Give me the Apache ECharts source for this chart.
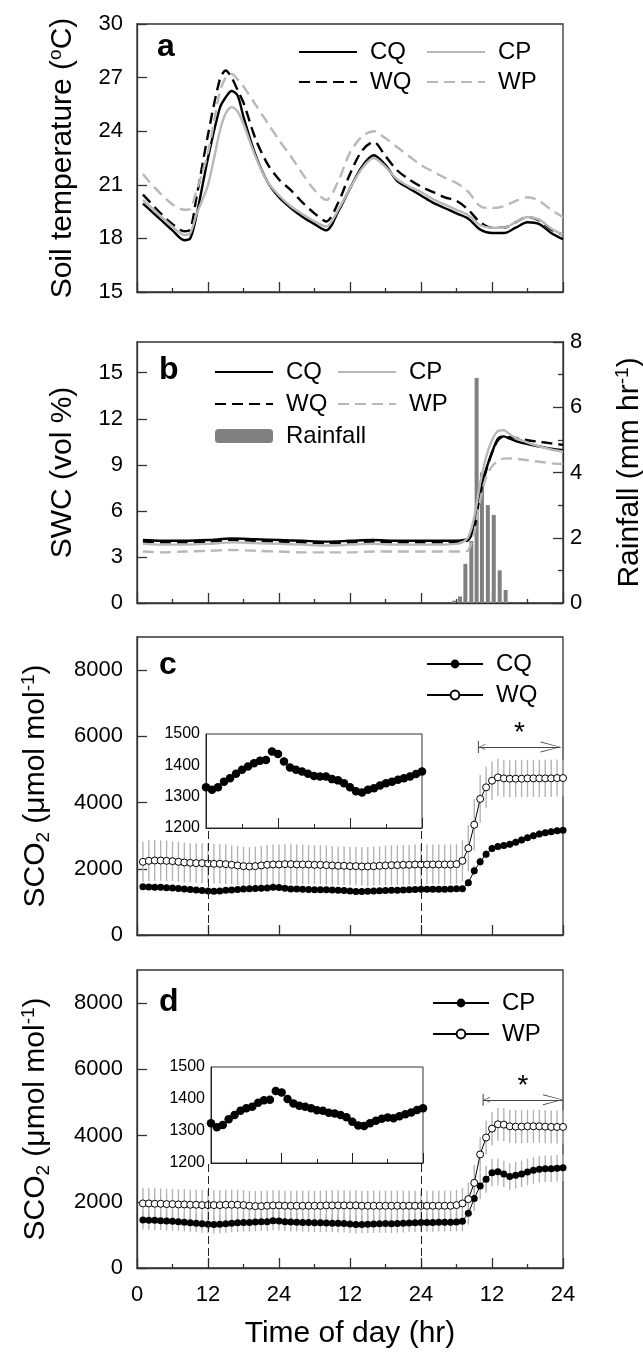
<!DOCTYPE html>
<html>
<head>
<meta charset="utf-8">
<script src="https://cdn.jsdelivr.net/npm/echarts/dist/echarts.min.js"></script>
<style>
html, body { margin: 0; padding: 0; background: #fff; }
#chart { width: 643px; height: 1353px; }
</style>
</head>
<body>
<div id="chart"></div>
<script>
// ---- data ----
var xTickLabels = ['0', '12', '24', '12', '24', '12', '24'];

// panel a: soil temperature (degC)
var tempHours = [1, 2, 4, 6, 8, 9, 10, 12, 14, 15, 16, 17, 18, 20, 22, 24, 26, 28, 30, 32, 34, 36, 38, 40,
    42, 44, 46, 48, 50, 52, 54, 56, 58, 60, 62, 64, 66, 68, 70, 72];
var tempCQ = [19.95, 19.65, 19.05, 18.45, 17.9, 18.0, 19.2, 22.5, 25.3, 25.9, 26.25, 26.0, 24.8, 22.7, 21.2, 20.3,
    19.7, 19.2, 18.8, 18.45, 19.5, 20.8, 22.0, 22.65, 22.1, 21.2, 20.8, 20.4, 20.0, 19.7, 19.4, 19.1, 18.5, 18.3,
    18.3, 18.6, 18.9, 18.8, 18.3, 17.95];
var tempWQ = [20.45, 20.1, 19.4, 18.8, 18.4, 18.5, 20.2, 23.8, 26.9, 27.4, 27.0, 26.3, 25.6, 23.6, 22.2, 21.3,
    20.7, 20.0, 19.4, 18.95, 20.0, 21.6, 22.9, 23.4, 22.6, 21.8, 21.3, 20.9, 20.6, 20.3, 20.1, 19.6, 18.9, 18.6,
    18.6, 18.9, 19.2, 19.0, 18.5, 18.2];
var tempCP = [20.15, 19.85, 19.25, 18.65, 18.2, 18.3, 19.3, 21.0, 24.0, 25.0, 25.35, 25.1, 24.4, 22.6, 21.2, 20.4,
    19.8, 19.35, 18.95, 18.67, 19.6, 20.8, 21.9, 22.5, 22.0, 21.3, 20.9, 20.6, 20.2, 19.9, 19.6, 19.3, 18.75, 18.6,
    18.6, 18.9, 19.2, 19.05, 18.55, 18.2];
var tempWP = [21.6, 21.2, 20.5, 19.9, 19.6, 19.65, 20.6, 22.8, 26.2, 27.0, 27.2, 26.9, 26.5, 25.5, 24.5, 23.5,
    22.6, 21.6, 20.7, 20.15, 21.2, 22.8, 23.7, 24.0, 23.6, 23.1, 22.6, 22.1, 21.75, 21.4, 21.1, 20.6, 19.8, 19.7,
    19.8, 20.1, 20.3, 20.1, 19.6, 19.2];

// panel b: soil water content (vol %) and rainfall (mm/hr)
var swcHours = [1, 4, 8, 12, 16, 20, 24, 28, 32, 36, 40, 44, 48, 52, 54, 55, 56, 57, 58, 59, 60, 61, 62, 63, 64,
    66, 68, 70, 72];
var swcCQ = [4.1, 4.05, 4.05, 4.1, 4.2, 4.15, 4.1, 4.05, 4.0, 4.05, 4.1, 4.05, 4.05, 4.05, 4.05, 4.1, 4.2, 5.0,
    7.3, 8.7, 9.8, 10.7, 10.85, 10.7, 10.55, 10.35, 10.2, 10.05, 9.95];
var swcWQ = [4.0, 3.95, 3.95, 4.0, 4.1, 4.05, 4.0, 3.95, 3.9, 3.95, 4.0, 3.95, 3.95, 3.95, 3.95, 4.0, 4.1, 4.9,
    7.1, 8.6, 9.8, 10.6, 10.85, 10.8, 10.75, 10.6, 10.5, 10.4, 10.3];
var swcCP = [3.85, 3.8, 3.8, 3.85, 3.95, 3.9, 3.85, 3.8, 3.75, 3.8, 3.85, 3.8, 3.8, 3.8, 3.85, 3.95, 4.3, 5.6,
    7.8, 9.5, 10.6, 11.2, 11.25, 11.0, 10.75, 10.45, 10.2, 10.0, 9.85];
var swcWP = [3.35, 3.3, 3.35, 3.4, 3.45, 3.4, 3.35, 3.3, 3.3, 3.3, 3.35, 3.35, 3.35, 3.35, 3.35, 3.35, 3.45, 4.6,
    6.7, 8.2, 8.9, 9.25, 9.4, 9.42, 9.4, 9.3, 9.2, 9.1, 9.05];
var rainHours = [53.6, 54.6, 55.5, 56.5, 57.4, 58.3, 59.3, 60.3, 61.3, 62.3];
var rain = [0.07, 0.2, 1.2, 1.9, 6.9, 4.0, 3.0, 2.7, 1.0, 0.4];

// panels c, d: soil CO2 (umol/mol), hourly
var hours = [1, 2, 3, 4, 5, 6, 7, 8, 9, 10, 11, 12, 13, 14, 15, 16, 17, 18, 19, 20, 21, 22, 23, 24,
    25, 26, 27, 28, 29, 30, 31, 32, 33, 34, 35, 36, 37, 38, 39, 40, 41, 42, 43, 44, 45, 46, 47, 48,
    49, 50, 51, 52, 53, 54, 55, 56, 57, 58, 59, 60, 61, 62, 63, 64, 65, 66, 67, 68, 69, 70, 71, 72];
var insetHours = [12, 13, 14, 15, 16, 17, 18, 19, 20, 21, 22, 23, 24, 25, 26, 27, 28, 29, 30, 31, 32, 33, 34, 35,
    36, 37, 38, 39, 40, 41, 42, 43, 44, 45, 46, 47, 48];

var co2CQEarly = [1455, 1450, 1445, 1440, 1430, 1420, 1405, 1390, 1375, 1360, 1345];
var co2CQInset = [1330, 1322, 1330, 1348, 1359, 1373, 1386, 1396, 1407, 1415, 1417, 1444, 1436, 1412, 1393, 1386,
    1380, 1373, 1366, 1364, 1364, 1356, 1352, 1343, 1330, 1317, 1313, 1322, 1327, 1336, 1343, 1348, 1354, 1359,
    1364, 1372, 1380];
var co2CQLate = [1380, 1385, 1380, 1385, 1390, 1395, 1400, 1580, 1940, 2210, 2440, 2610, 2670, 2700, 2740, 2800,
    2870, 2940, 3000, 3050, 3090, 3120, 3150, 3160];
var co2CQ = co2CQEarly.concat(co2CQInset, co2CQLate);
var co2CQErr = [95, 100, 100, 95, 95, 90, 90, 95, 95, 90, 90, 90, 90, 90, 95, 95, 95, 100, 100, 100, 100, 100, 100, 95,
    95, 95, 90, 90, 90, 90, 90, 90, 85, 85, 85, 85, 85, 85, 85, 90, 90, 90, 90, 90, 90, 90, 90, 90,
    90, 90, 90, 90, 90, 95, 100, 120, 150, 140, 130, 120, 110, 110, 110, 110, 110, 110, 110, 110, 110, 110, 110, 110];
var co2WQ = [2210, 2240, 2250, 2250, 2240, 2230, 2210, 2190, 2180, 2170, 2170, 2160,
    2150, 2150, 2140, 2120, 2100, 2080, 2070, 2080, 2100, 2120, 2130, 2130,
    2140, 2140, 2130, 2130, 2130, 2120, 2120, 2110, 2100, 2090, 2090, 2080,
    2080, 2070, 2070, 2080, 2090, 2100, 2110, 2110, 2120, 2120, 2130, 2130,
    2130, 2130, 2130, 2130, 2130, 2140, 2240, 2620, 3330, 4110, 4460, 4660,
    4760, 4730, 4720, 4720, 4720, 4730, 4730, 4730, 4730, 4730, 4740, 4740];
var co2WQErr = [610, 620, 620, 610, 610, 600, 600, 600, 590, 590, 600, 600,
    600, 600, 600, 590, 590, 580, 580, 590, 590, 600, 600, 600,
    600, 600, 600, 600, 590, 590, 590, 590, 580, 580, 580, 580,
    580, 580, 590, 590, 590, 600, 600, 600, 600, 600, 600, 600,
    600, 600, 600, 600, 600, 600, 620, 700, 780, 720, 620, 580,
    560, 560, 560, 560, 560, 560, 560, 560, 560, 560, 560, 560];

var co2CPEarly = [1450, 1445, 1440, 1430, 1420, 1410, 1400, 1385, 1370, 1355, 1340];
var co2CPInset = [1324, 1312, 1319, 1337, 1350, 1363, 1371, 1376, 1388, 1396, 1398, 1425, 1420, 1400, 1386, 1379,
    1376, 1371, 1365, 1363, 1357, 1355, 1350, 1343, 1329, 1317, 1316, 1324, 1332, 1338, 1342, 1340, 1346, 1352,
    1358, 1366, 1371];
var co2CPLate = [1375, 1375, 1380, 1380, 1385, 1390, 1410, 1650, 2100, 2480, 2680, 2880, 2910, 2840, 2760, 2800,
    2840, 2900, 2950, 2980, 3000, 3000, 3010, 3030];
var co2CP = co2CPEarly.concat(co2CPInset, co2CPLate);
var co2CPErr = [290, 290, 290, 285, 285, 280, 280, 280, 275, 275, 275, 275,
    270, 270, 270, 270, 275, 275, 275, 280, 280, 280, 285, 285,
    285, 285, 280, 280, 280, 280, 275, 275, 275, 275, 270, 270,
    270, 270, 270, 275, 275, 275, 280, 280, 280, 280, 280, 280,
    280, 280, 280, 280, 280, 285, 300, 340, 380, 400, 410, 410,
    400, 400, 400, 400, 400, 400, 400, 400, 400, 400, 400, 400];
var co2WP = [1950, 1950, 1940, 1940, 1930, 1930, 1920, 1920, 1910, 1910, 1900, 1900,
    1900, 1900, 1910, 1910, 1910, 1900, 1880, 1870, 1870, 1880, 1890, 1890,
    1880, 1880, 1880, 1880, 1880, 1880, 1880, 1890, 1890, 1890, 1890, 1890,
    1890, 1880, 1880, 1880, 1880, 1880, 1880, 1880, 1880, 1880, 1880, 1880,
    1880, 1880, 1880, 1880, 1880, 1900, 1950, 2080, 2570, 3430, 3940, 4210,
    4340, 4330, 4280, 4270, 4270, 4280, 4280, 4280, 4270, 4260, 4260, 4260];
var co2WPErr = [470, 470, 470, 465, 465, 460, 460, 460, 455, 455, 455, 455,
    450, 450, 450, 450, 450, 450, 450, 455, 455, 455, 455, 455,
    455, 455, 455, 455, 455, 455, 455, 455, 455, 455, 455, 455,
    455, 455, 455, 455, 455, 455, 455, 455, 455, 455, 455, 455,
    455, 455, 455, 455, 455, 460, 470, 500, 540, 530, 510, 500,
    500, 500, 500, 500, 500, 500, 500, 500, 500, 500, 500, 500];

// zoom window of the insets and the "*" spans (data units)
var insetSpan = [12, 48];
var insetFootC = 3220, insetFootD = 3160;
var starSpanC = [57.7, 71.6], starLevelC = 5680;
var starSpanD = [58.5, 72], starLevelD = 5080;

// ---- helpers ----
var FONT = '"Liberation Sans", Arial, Helvetica, sans-serif';
var AX = '#333';
var GRAY = '#b8b8b8';

function pairs(xs, ys) {
    return xs.map(function (x, i) { return [x, ys[i]]; });
}
function triples(xs, ys, es) {
    return xs.map(function (x, i) { return [x, ys[i], es[i]]; });
}
function plain(v) { return String(v); }
function errorBars(params, api) {
    var x = api.value(0), y = api.value(1), e = api.value(2);
    var hi = api.coord([x, y + e]);
    var lo = api.coord([x, y - e]);
    return {
        type: 'line',
        shape: { x1: hi[0], y1: hi[1], x2: lo[0], y2: lo[1] },
        style: { stroke: '#b4b4b4', lineWidth: 1.4 }
    };
}

var richName = {
    sup: { fontSize: 19, lineHeight: 16, verticalAlign: 'top', fontFamily: FONT, color: '#000' },
    sub: { fontSize: 19, lineHeight: 14, verticalAlign: 'bottom', fontFamily: FONT, color: '#000' }
};
var nameStyle = { fontSize: 30, lineHeight: 34, color: '#000', fontFamily: FONT, rich: richName };

function mainX(g, labels, minor) {
    return {
        type: 'value', gridIndex: g, min: 0, max: 72, interval: 12,
        axisLine: { show: true, onZero: false, lineStyle: { color: AX, width: 1.3 } },
        axisTick: { show: true, inside: true, length: 10, lineStyle: { color: AX, width: 1.3 } },
        minorTick: { show: minor, splitNumber: 2, length: 4, lineStyle: { color: AX, width: 1.3 } },
        splitLine: { show: false },
        axisLabel: {
            show: labels, fontSize: 22, color: '#000', fontFamily: FONT, margin: 16,
            formatter: function (v) { return xTickLabels[Math.round(v / 12)]; }
        },
        name: labels ? 'Time of day (hr)' : '',
        nameLocation: 'middle', nameGap: 49, nameMoveOverlap: false,
        nameTextStyle: nameStyle
    };
}
function leftY(g, min, max, step, name, gap) {
    return {
        type: 'value', gridIndex: g, min: min, max: max, interval: step, position: 'left',
        axisLine: { show: true, onZero: false, lineStyle: { color: AX, width: 1.3 } },
        axisTick: { show: true, inside: true, length: 10, lineStyle: { color: AX, width: 1.3 } },
        splitLine: { show: false },
        axisLabel: { fontSize: 22, color: '#000', fontFamily: FONT, margin: 14, formatter: plain,
            showMaxLabel: (max - min) % step === 0 },
        name: name, nameLocation: 'middle', nameGap: gap, nameRotate: 90, nameMoveOverlap: false,
        nameTextStyle: nameStyle
    };
}
function insetX(g) {
    return {
        type: 'value', gridIndex: g, min: insetSpan[0], max: insetSpan[1], interval: 12,
        axisLine: { show: true, onZero: false, lineStyle: { color: '#222', width: 1 } },
        axisTick: { show: true, inside: true, length: 10, lineStyle: { color: '#222', width: 1 } },
        minorTick: { show: true, splitNumber: 2, length: 4, lineStyle: { color: '#222', width: 1 } },
        splitLine: { show: false },
        axisLabel: { show: false }
    };
}
function insetY(g) {
    return {
        type: 'value', gridIndex: g, min: 1200, max: 1500, interval: 100,
        axisLine: { show: true, onZero: false, lineStyle: { color: '#222', width: 1 } },
        axisTick: { show: false },
        splitLine: { show: false },
        axisLabel: { fontSize: 16, color: '#000', fontFamily: FONT, margin: 6, formatter: plain }
    };
}
function grid(left, top, width, height, bw) {
    return {
        left: left, top: top, width: width, height: height, show: true,
        borderColor: AX, borderWidth: bw, backgroundColor: 'transparent',
        containLabel: false, outerBoundsMode: 'none'
    };
}
function tempLine(name, ys, color, dashed) {
    return {
        name: name, type: 'line', xAxisIndex: 0, yAxisIndex: 0, data: pairs(tempHours, ys),
        smooth: 0.3, symbol: 'none', silent: true,
        lineStyle: { color: color, width: 2.4, type: dashed ? [11, 6] : 'solid' },
        itemStyle: { color: color }
    };
}
function swcLine(name, ys, color, dashed) {
    return {
        name: name, type: 'line', xAxisIndex: 1, yAxisIndex: 1, data: pairs(swcHours, ys),
        smooth: 0.3, symbol: 'none', silent: true, z: 3,
        lineStyle: { color: color, width: 2.4, type: dashed ? [11, 6] : 'solid' },
        itemStyle: { color: color }
    };
}
function co2Line(name, xi, yi, ys, filled, extra) {
    var s = {
        name: name, type: 'line', xAxisIndex: xi, yAxisIndex: yi, data: pairs(hours, ys),
        symbol: 'circle', symbolSize: 7, showAllSymbol: true, silent: true, z: 3,
        lineStyle: { color: '#000', width: 1 },
        itemStyle: filled ? { color: '#000' }
                          : { color: '#fff', borderColor: '#000', borderWidth: 1 }
    };
    for (var k in extra) s[k] = extra[k];
    return s;
}
function errSeries(xi, yi, ys, es) {
    return {
        type: 'custom', xAxisIndex: xi, yAxisIndex: yi, renderItem: errorBars, silent: true, z: 1,
        encode: { x: 0, y: 1 }, data: triples(hours, ys, es)
    };
}
function insetDots(xi, yi, ys) {
    return {
        type: 'scatter', xAxisIndex: xi, yAxisIndex: yi, data: pairs(insetHours, ys),
        symbolSize: 8.5, silent: true,
        itemStyle: { color: '#000', opacity: 1 }
    };
}
function connectors(foot) {
    return {
        silent: true, symbol: ['none', 'none'], animation: false,
        label: { show: false },
        lineStyle: { color: '#222', width: 1, type: [8, 4] },
        data: [
            [{ coord: [insetSpan[0], 0] }, { coord: [insetSpan[0], foot] }],
            [{ coord: [insetSpan[1], 0] }, { coord: [insetSpan[1], foot] }]
        ]
    };
}
var headRight = 'path://M5.5,0 L5.5,0.01 Z M5.5,20 L11,40 L10,40 L5.5,21.8 L1,40 L0,40 Z';
var headLeft = 'path://M6,0 L6,0.01 Z M0,19.5 L12,19.5 L12,20.5 L0,20.5 Z M6,20.5 L9,27 L8.3,27 L6,22 L3.7,27 L3,27 Z M6,40 L6,40.01 Z';
function starSpan(span, level) {
    return {
        silent: true, animation: false,
        lineStyle: { color: '#444', width: 1, type: 'solid' },
        label: { show: true, formatter: '*', position: 'insideMiddleTop', distance: 0,
            fontSize: 28, color: '#000', fontFamily: FONT },
        data: [[
            { coord: [span[0], level], symbol: headLeft, symbolSize: [12, 40] },
            { coord: [span[1], level], symbol: headRight, symbolSize: [11, 40] }
        ]]
    };
}
// line items hide the marker glyph so only the line sample shows
function lineItem(n) { return { name: n, itemStyle: { opacity: 0 } }; }
function legendBox(items, left, top, gap, w, h) {
    return {
        data: items, left: left, top: top, orient: 'vertical', padding: 0,
        itemWidth: w, itemHeight: h, itemGap: gap, selectedMode: false,
        formatter: function (n) { return n.split(':')[1]; },
        textStyle: { fontSize: 24, lineHeight: 24, color: '#000', fontFamily: FONT, padding: [0, 0, 0, 8] }
    };
}
function panelTag(t, left, top) {
    return {
        text: t, left: left, top: top, padding: 0,
        textStyle: { fontSize: 32, fontWeight: 'bold', color: '#000', fontFamily: FONT }
    };
}

var option = {
    animation: false,
    backgroundColor: '#fff',
    textStyle: { fontFamily: FONT },
    title: [panelTag('a', 157, 31), panelTag('b', 159, 354), panelTag('c', 159, 649), panelTag('d', 159, 986)],
    legend: [
        legendBox([lineItem('a:CQ'), lineItem('a:WQ')], 298, 40, 6, 58, 14),
        legendBox([lineItem('a:CP'), lineItem('a:WP')], 426, 40, 6, 58, 14),
        legendBox([lineItem('b:CQ'), lineItem('b:WQ'), 'b:Rainfall'], 214, 360, 8, 58, 14),
        legendBox([lineItem('b:CP'), lineItem('b:WP')], 337, 360, 8, 58, 14),
        legendBox(['c:CQ', 'c:WQ'], 426, 652, 7, 56, 11),
        legendBox(['d:CP', 'd:WP'], 432, 991, 7, 56, 11)
    ],
    grid: [
        grid(137, 24, 426, 268, 1.3),
        grid(137, 342, 426, 261, 1.3),
        grid(137, 637, 426, 298, 1.3),
        grid(137, 970, 426, 298, 1.3),
        grid(206, 734, 216, 94, 1),
        grid(211, 1067, 212, 96, 1)
    ],
    xAxis: [mainX(0, false, true), mainX(1, false, true), mainX(2, false, false), mainX(3, true, true),
        insetX(4), insetX(5)],
    yAxis: [
        leftY(0, 15, 30, 3, 'Soil temperature ({sup|o}C)', 57),
        leftY(1, 0, 17, 3, 'SWC (vol %)', 57),
        {
            type: 'value', gridIndex: 1, min: 0, max: 8, interval: 2, position: 'right',
            axisLine: { show: true, onZero: false, lineStyle: { color: AX, width: 1.3 } },
            axisTick: { show: true, inside: true, length: 10, lineStyle: { color: AX, width: 1.3 } },
            minorTick: { show: true, splitNumber: 2, length: 5, lineStyle: { color: AX, width: 1.3 } },
            splitLine: { show: false },
            axisLabel: { fontSize: 22, color: '#000', fontFamily: FONT, margin: 7 },
            name: 'Rainfall (mm hr{sup|-1})', nameLocation: 'middle', nameGap: 50, nameRotate: 90,
            nameMoveOverlap: false, nameTextStyle: nameStyle
        },
        leftY(2, 0, 9000, 2000, 'SCO{sub|2} (\u03bcmol mol{sup|-1})', 84),
        leftY(3, 0, 9000, 2000, 'SCO{sub|2} (\u03bcmol mol{sup|-1})', 84),
        insetY(4),
        insetY(5)
    ],
    series: [
        tempLine('a:CQ', tempCQ, '#000', false),
        tempLine('a:WQ', tempWQ, '#000', true),
        tempLine('a:CP', tempCP, GRAY, false),
        tempLine('a:WP', tempWP, GRAY, true),

        {
            name: 'b:Rainfall', type: 'bar', xAxisIndex: 1, yAxisIndex: 2, data: pairs(rainHours, rain),
            barWidth: 4, silent: true, z: 2, itemStyle: { color: '#808080' }
        },
        swcLine('b:CQ', swcCQ, '#000', false),
        swcLine('b:WQ', swcWQ, '#000', true),
        swcLine('b:CP', swcCP, GRAY, false),
        swcLine('b:WP', swcWP, GRAY, true),

        errSeries(2, 3, co2WQ, co2WQErr),
        errSeries(2, 3, co2CQ, co2CQErr),
        co2Line('c:CQ', 2, 3, co2CQ, true, { markLine: connectors(insetFootC) }),
        co2Line('c:WQ', 2, 3, co2WQ, false, { markLine: starSpan(starSpanC, starLevelC) }),
        insetDots(4, 5, co2CQInset),

        errSeries(3, 4, co2WP, co2WPErr),
        errSeries(3, 4, co2CP, co2CPErr),
        co2Line('d:CP', 3, 4, co2CP, true, { markLine: connectors(insetFootD) }),
        co2Line('d:WP', 3, 4, co2WP, false, { markLine: starSpan(starSpanD, starLevelD) }),
        insetDots(5, 6, co2CPInset)
    ]
};

var chart = echarts.init(document.getElementById('chart'), null, { renderer: 'canvas' });
chart.setOption(option);
</script>
</body>
</html>
